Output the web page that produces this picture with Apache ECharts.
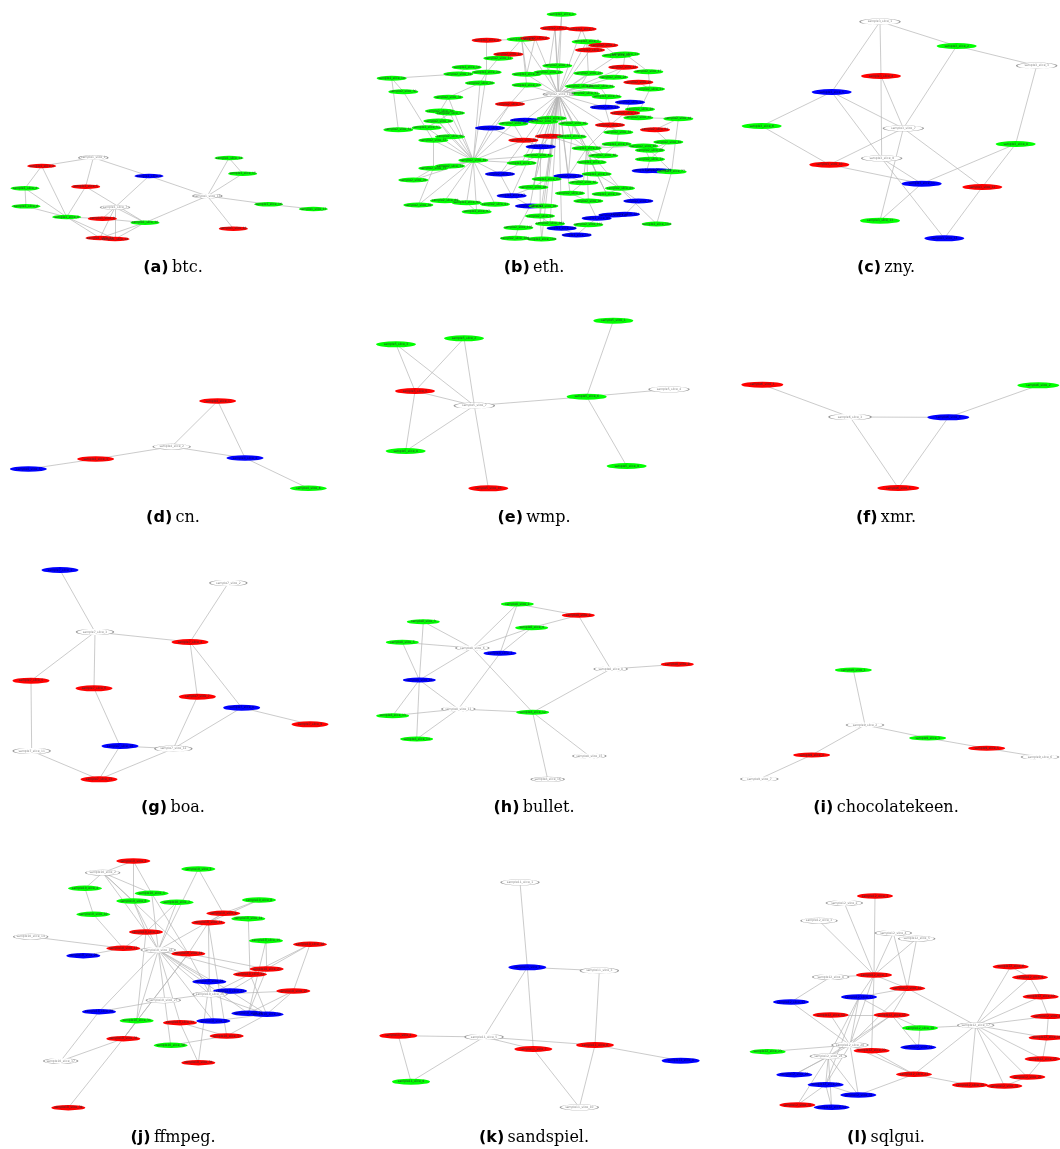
<!DOCTYPE html>
<html><head><meta charset="utf-8">
<script src="https://cdn.jsdelivr.net/npm/echarts@6/dist/echarts.min.js"></script>
<style>html,body{margin:0;padding:0;background:#fff}#c{width:1060px;height:1149px}</style>
</head><body><div id="c"></div>
<script>
// ---------- DATA ----------
const panelLetters = ['a','b','c','d','e','f','g','h','i','j','k','l'];
const panelNames = ['btc.','eth.','zny.','cn.','wmp.','xmr.','boa.','bullet.','chocolatekeen.','ffmpeg.','sandspiel.','sqlgui.'];

// nodes: [x, y, kind]  (kind: r=red, g=green, b=blue, w=white)
const aNodes = [[280,38,'w'],[125,63,'r'],[447,93,'b'],[75,130,'g'],[257,125,'r'],[78,184,'g'],[345,187,'w'],[200,216,'g'],[307,221,'r'],[435,233,'g'],[300,279,'r'],[345,282,'r'],[622,153,'w'],[687,39,'g'],[728,86,'g'],[806,178,'g'],[940,192,'g'],[700,251,'r']];
const aEdges = [[0,1],[0,4],[0,2],[1,3],[1,7],[3,5],[3,7],[5,7],[4,7],[4,9],[2,6],[2,12],[6,8],[6,10],[6,11],[6,9],[7,8],[7,10],[7,11],[8,9],[9,10],[9,11],[12,9],[12,13],[12,14],[13,14],[12,15],[15,16],[12,17]];

const bNodes = [[575,28,'g'],[555,70,'r'],[635,72,'r'],[350,106,'r'],[455,103,'g'],[495,100,'r'],[650,110,'g'],[700,121,'r'],[660,135,'r'],[415,148,'r'],
[385,160,'g'],[740,152,'g'],[765,147,'g'],[562,182,'g'],[760,187,'r'],[290,187,'g'],[835,200,'g'],[65,220,'g'],[265,207,'g'],[350,202,'g'],
[470,208,'g'],[535,202,'g'],[655,205,'g'],[730,217,'g'],[805,232,'r'],[330,234,'g'],[470,240,'g'],[630,244,'g'],[690,245,'g'],[100,260,'g'],
[840,252,'g'],[235,277,'g'],[645,266,'g'],[710,275,'g'],[780,292,'b'],[420,297,'r'],[705,307,'b'],[210,318,'g'],[240,324,'g'],[810,313,'g'],
[765,324,'r'],[545,340,'g'],[805,338,'g'],[925,341,'g'],[465,346,'b'],[430,356,'g'],[520,350,'g'],[205,348,'g'],[610,356,'g'],[720,360,'r'],
[360,369,'b'],[85,374,'g'],[170,368,'g'],[855,374,'r'],[745,382,'g'],[240,395,'g'],[190,406,'g'],[460,406,'r'],[540,394,'r'],[605,395,'g'],
[740,417,'g'],[895,411,'g'],[512,425,'b'],[650,430,'g'],[820,423,'g'],[840,436,'g'],[505,452,'g'],[700,452,'g'],[310,466,'g'],[455,474,'g'],
[665,472,'g'],[840,463,'g'],[190,490,'g'],[240,483,'g'],[830,497,'b'],[865,497,'b'],[905,500,'g'],[130,525,'g'],[390,507,'b'],[680,507,'g'],
[595,513,'b'],[530,522,'g'],[640,533,'g'],[490,547,'g'],[750,550,'g'],[600,565,'g'],[425,572,'b'],[710,567,'g'],[225,587,'g'],[290,593,'g'],
[375,598,'g'],[145,600,'g'],[480,603,'b'],[520,603,'g'],[655,588,'g'],[805,588,'b'],[320,620,'g'],[510,633,'g'],[680,640,'b'],[730,630,'b'],
[765,628,'b'],[540,656,'g'],[655,659,'g'],[860,657,'g'],[445,668,'g'],[575,670,'b'],[620,690,'b'],[435,700,'g'],[515,702,'g'],[565,268,'w']];
const bEdges = [[109,0],[109,1],[109,2],[109,5],[109,6],[109,8],[109,13],[109,20],[109,21],[109,22],[109,26],[109,27],[109,32],[109,35],[109,41],[109,44],[109,46],[109,48],[109,58],[109,59],[109,63],[109,66],[109,69],[109,81],[109,93],[109,97],[109,4],[109,62],[109,86],[109,105],[109,83],[109,78],[109,80],[109,85],[109,87],[109,67],[109,54],[109,36],[109,33],[109,28],[109,23],[109,14],[109,11],[109,101],[109,108],
[68,31],[68,37],[68,38],[68,47],[68,52],[68,55],[68,56],[68,72],[68,73],[68,77],[68,88],[68,89],[68,90],[68,91],[68,96],[68,25],[68,19],[68,45],[68,50],[68,78],[68,69],[68,57],[68,66],[68,35],
[63,80],[63,82],[63,94],[63,79],[63,84],[63,59],[63,67],[63,70],[63,48],[63,58],[63,49],[63,60],[63,64],
[17,29],[17,51],[29,56],[17,18],[18,19],[15,18],[15,19],[3,19],[9,10],[10,19],[4,9],[4,26],[4,20],[5,20],[3,4],[19,25],[25,31],[31,37],[38,47],[47,52],[52,51],[55,56],[55,47],[56,72],[91,72],[77,72],[11,12],[12,16],[14,23],[16,30],[24,30],[23,22],[22,27],[27,28],[28,33],[33,36],[34,40],[36,49],[39,42],[40,42],[42,43],[43,76],[53,61],[61,65],[64,65],[64,71],[71,74],[74,75],[75,76],[60,67],[54,60],[49,54],[67,70],[70,79],[79,84],[84,95],[95,100],[99,100],[98,99],[98,102],[102,106],[105,106],[101,105],[97,101],[97,108],[107,108],[104,107],[92,104],[92,93],[86,92],[83,86],[83,81],[81,80],[80,82],[82,85],[85,94],[94,98],[78,86],[78,69],[69,66],[66,62],[62,57],[57,45],[45,44],[44,46],[46,41],[41,48],[48,59],[58,62],[50,57],[50,35],[35,26],[103,76],[87,79],[87,84],[89,96],[88,89],[0,13],[1,13],[2,8],[7,8],[6,22],[7,11],[12,14],[30,39],[34,36],[40,49],[53,43],[61,71],[65,76],[103,84],[62,83],[62,92],[62,97],[59,80],[1,21]];

const cNodes = [[450,35,'w'],[680,108,'g'],[920,167,'w'],[453,198,'r'],[305,246,'b'],[95,348,'g'],[520,355,'w'],[857,402,'g'],[455,445,'w'],[298,464,'r'],[575,521,'b'],[757,531,'r'],[450,632,'g'],[643,685,'b']];
const cEdges = [[0,4],[0,3],[0,1],[2,1],[2,7],[5,4],[5,9],[6,4],[6,9],[6,1],[6,11],[6,12],[8,3],[6,3],[8,10],[8,13],[4,8],[9,10],[7,10],[7,11],[11,13],[12,10]];

const dNodes = [[653,33,'r'],[515,170,'w'],[287,207,'r'],[735,204,'b'],[85,237,'b'],[925,295,'g']];
const dEdges = [[1,0],[3,0],[1,2],[1,3],[2,4],[3,5]];

const eNodes = [[730,32,'g'],[282,85,'g'],[78,103,'g'],[897,238,'w'],[135,243,'r'],[650,260,'g'],[313,287,'w'],[107,423,'g'],[770,468,'g'],[355,535,'r']];
const eEdges = [[2,4],[1,4],[2,6],[6,4],[6,7],[7,4],[6,5],[5,0],[3,5],[8,5],[6,1],[6,9]];

const fNodes = [[97,44,'r'],[925,46,'g'],[360,141,'w'],[655,142,'b'],[505,354,'r']];
const fEdges = [[2,0],[2,3],[3,1],[2,4],[3,4]];

const gNodes = [[180,30,'b'],[685,69,'w'],[285,216,'w'],[570,246,'r'],[93,362,'r'],[282,385,'r'],[592,410,'r'],[725,443,'b'],[930,493,'r'],[360,558,'b'],[95,573,'w'],[520,566,'w'],[297,658,'r']];
const gEdges = [[0,2],[1,3],[2,3],[2,4],[2,5],[10,4],[9,5],[11,9],[11,6],[6,3],[7,3],[7,8],[11,7],[10,12],[9,12],[11,12]];

const hNodes = [[472,27,'g'],[655,61,'r'],[190,80,'g'],[515,98,'g'],[127,142,'g'],[337,159,'w'],[420,175,'b'],[752,222,'w'],[952,208,'r'],[178,255,'b'],[295,342,'w'],[518,352,'g'],[98,362,'g'],[170,432,'g'],[688,483,'w'],[563,553,'w']];
const hEdges = [[0,1],[5,0],[6,0],[5,3],[6,3],[3,1],[5,2],[9,2],[5,4],[9,4],[9,5],[5,11],[7,1],[7,8],[7,11],[10,6],[9,10],[9,12],[9,13],[10,12],[10,13],[10,11],[14,11],[15,11]];

const iNodes = [[370,30,'g'],[405,195,'w'],[593,234,'g'],[245,285,'r'],[770,265,'r'],[930,291,'w'],[88,357,'w']];
const iEdges = [[1,0],[1,2],[1,3],[2,4],[5,4],[6,3]];

const jNodes = [[400,33,'r'],[308,68,'w'],[595,57,'g'],[255,115,'g'],[455,130,'g'],[400,153,'g'],[530,157,'g'],[777,150,'g'],[670,190,'r'],[280,193,'g'],
[625,218,'r'],[745,206,'g'],[438,246,'r'],[92,260,'w'],[798,272,'g'],[930,283,'r'],[370,295,'r'],[475,300,'w'],[565,311,'r'],[250,317,'b'],
[800,357,'r'],[750,373,'r'],[628,395,'b'],[690,423,'b'],[880,423,'r'],[630,433,'w'],[490,451,'w'],[297,485,'b'],[745,490,'b'],[800,493,'b'],
[410,512,'g'],[540,518,'r'],[640,513,'b'],[680,558,'r'],[370,566,'r'],[512,586,'g'],[182,633,'w'],[595,638,'r'],[205,773,'r']];
const jEdges = [[1,0],[1,3],[1,4],[1,5],[1,12],[1,18],[0,5],[0,4],[3,9],[9,16],[5,12],[5,17],[4,17],[4,18],[6,12],[6,17],[2,8],[2,17],[7,8],[7,10],[8,10],[8,17],[10,18],[10,22],[11,8],[11,21],[13,16],[16,17],[16,19],[16,12],[12,17],[14,28],[14,20],[15,24],[15,20],[15,21],[18,20],[18,25],[17,22],[17,25],[17,32],[17,31],[17,35],[17,30],[17,27],[17,23],[17,21],[17,28],[20,28],[21,29],[24,28],[24,29],[24,25],[23,29],[22,32],[22,37],[25,29],[25,21],[26,27],[26,23],[27,36],[36,34],[34,30],[34,38],[34,18],[31,37],[31,33],[33,29],[35,33],[32,29],[10,33],[20,23],[12,30],[18,34]];

const kNodes = [[450,37,'w'],[472,292,'b'],[688,302,'w'],[85,497,'r'],[342,501,'w'],[675,525,'r'],[490,537,'r'],[932,572,'b'],[123,635,'g'],[628,712,'w']];
const kEdges = [[0,1],[2,1],[2,5],[4,1],[1,6],[4,3],[3,8],[4,8],[4,6],[4,5],[7,5],[9,6],[9,5]];

const lNodes = [[405,123,'r'],[313,144,'w'],[237,197,'w'],[460,234,'w'],[530,251,'w'],[812,335,'r'],[402,360,'r'],[272,366,'w'],[870,367,'r'],[502,400,'r'],
[357,426,'b'],[902,425,'r'],[153,441,'b'],[272,480,'r'],[455,480,'r'],[925,484,'r'],[707,511,'w'],[540,519,'g'],[920,548,'r'],[330,570,'w'],
[535,577,'b'],[395,587,'r'],[83,590,'g'],[265,604,'w'],[908,612,'r'],[163,659,'b'],[522,658,'r'],[862,666,'r'],[257,689,'b'],[690,690,'r'],
[793,693,'r'],[355,720,'b'],[172,750,'r'],[275,757,'b']];
const lEdges = [[0,6],[1,6],[2,6],[3,6],[3,9],[4,9],[4,6],[7,6],[7,12],[6,9],[9,16],[9,10],[9,14],[9,19],[6,10],[6,19],[6,21],[10,19],[10,23],[10,28],[12,19],[13,14],[13,19],[14,17],[14,19],[14,20],[14,23],[14,10],[16,5],[16,8],[16,11],[16,15],[16,18],[16,24],[16,27],[16,30],[16,29],[16,26],[16,17],[5,8],[11,8],[11,15],[15,18],[18,24],[24,27],[27,30],[17,20],[19,22],[19,25],[19,28],[19,31],[19,26],[23,25],[23,28],[23,31],[23,32],[23,33],[21,26],[26,29],[28,32],[28,33],[28,31],[31,26]];

const panelNodes = [aNodes,bNodes,cNodes,dNodes,eNodes,fNodes,gNodes,hNodes,iNodes,jNodes,kNodes,lNodes];
const panelEdges = [aEdges,bEdges,cEdges,dEdges,eEdges,fEdges,gEdges,hEdges,iEdges,jEdges,kEdges,lEdges];

// ---------- LAYOUT / STYLE ----------
// grid boxes [left, top, width, height] in px; node coords are in 1/3-px units of these boxes
const panelBoxes = [[0,145,340,105],[370,5,330,245],[730,10,330,240],[0,390,340,110],[370,310,330,190],[730,370,330,130],
[0,560,340,230],[360,595,340,190],[730,660,330,125],[0,850,345,265],[370,870,330,245],[740,855,320,260]];
const nodeSizes = [[29,4.5],[30,5],[40,6],[37,5.5],[40,6],[42,6],[37,6],[33,5],[37,5],[34,5.5],[38,6],[36,5.5]];
const colCenters = [173,534,886];
const rowCaptionY = [268,518,808,1138];
const KIND_COLOR = {r:'#ff0000', g:'#00ff00', b:'#0000ff', w:'#ffffff'};
const ELLIPSE = 'path://M0 50 A100 50 0 1 1 200 50 A100 50 0 1 1 0 50 Z';

const grids=[], xAxes=[], yAxes=[], series=[], graphics=[];
panelBoxes.forEach((bx,i)=>{
  grids.push({left:bx[0], top:bx[1], width:bx[2], height:bx[3], containLabel:false});
  xAxes.push({type:'value', gridIndex:i, min:0, max:bx[2]*3, show:false});
  yAxes.push({type:'value', gridIndex:i, min:0, max:bx[3]*3, inverse:true, show:false});
  const nodes = panelNodes[i];
  series.push({
    type:'graph', coordinateSystem:'cartesian2d', xAxisIndex:i, yAxisIndex:i,
    symbol: ELLIPSE, symbolSize: nodeSizes[i], silent:true,
    data: nodes.map((n,k)=>({
      name:'n'+k, value:[n[0],n[1]],
      itemStyle:{color:KIND_COLOR[n[2]], borderColor: n[2]==='w' ? '#9a9a9a' : KIND_COLOR[n[2]], borderWidth: n[2]==='w' ? 0.6 : 0},
      label:{color: n[2]==='w' ? '#888' : (n[2]==='b' ? '#000060' : '#333')}
    })),
    links: panelEdges[i].map(e=>({source:e[0], target:e[1]})),
    lineStyle:{color:'#b4b4b4', width:0.7, opacity:1, curveness:0},
    label:{show:true, position:'inside', fontSize:3, fontFamily:'DejaVu Sans',
      formatter: p => 'sample' + (i+1) + '_slice_' + (p.dataIndex+1)},
    emphasis:{disabled:true}
  });
  const col = i%3, row = Math.floor(i/3);
  graphics.push({type:'text', x:colCenters[col], y:rowCaptionY[row], style:{
    text:'{b|(' + panelLetters[i] + ')} {n|' + panelNames[i] + '}',
    textAlign:'center', textVerticalAlign:'middle',
    rich:{b:{fontFamily:'DejaVu Sans', fontWeight:'bold', fontSize:16, fill:'#000'},
          n:{fontFamily:'DejaVu Serif', fontSize:16, fill:'#000'}}
  }});
});

const chart = echarts.init(document.getElementById('c'), null, {renderer:'canvas'});
chart.setOption({animation:false, backgroundColor:'#fff', grid:grids, xAxis:xAxes, yAxis:yAxes, series:series, graphic:graphics});
</script></body></html>
